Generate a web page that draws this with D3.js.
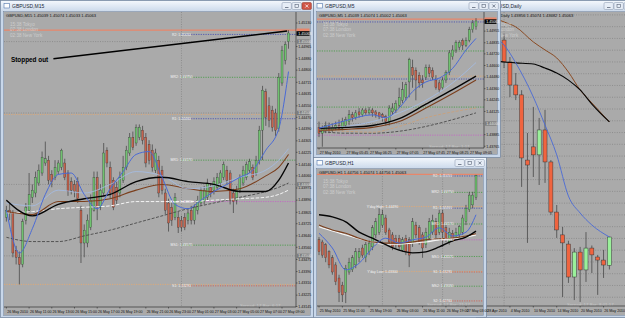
<!DOCTYPE html>
<meta charset="utf-8">
<style>
body { margin: 0; background: #c3d2e6; }
svg { display: block; }
text { font-family: "Liberation Sans", Arial, sans-serif; }
</style>
<body>
<script src="https://d3js.org/d3.v7.min.js"></script>
<script>
// ---------- values ----------

// GBPUSD M15 (big left window)
var m15Open = [1.4377,1.4382,1.4380,1.4354,1.4349,1.4344,1.4375,1.4382,1.4391,1.4394,
  1.4401,1.4408,1.4415,1.4417,1.4407,1.4405,1.4409,1.4412,1.4415,1.4408,
  1.4402,1.4400,1.4402,1.4382,1.4359,1.4359,1.4370,1.4382,1.4405,1.4384,
  1.4394,1.4424,1.4412,1.4403,1.4398,1.4394,1.4403,1.4412,1.4422,1.4433,
  1.4429,1.4433,1.4438,1.4433,1.4428,1.4424,1.4410,1.4417,1.4410,1.4394,
  1.4387,1.4384,1.4377,1.4377,1.4375,1.4377,1.4375,1.4382,1.4375,1.4382,
  1.4387,1.4388,1.4391,1.4398,1.4396,1.4398,1.4401,1.4405,1.4410,1.4408,
  1.4394,1.4389,1.4396,1.4401,1.4405,1.4410,1.4412,1.4408,1.4417,1.4438,
  1.4465,1.4455,1.4452,1.4450,1.4439,1.4471,1.4487,1.4500];
var m15High = [1.4385,1.4387,1.4382,1.4357,1.4353,1.4376,1.4387,1.4408,1.4400,1.4409,
  1.4414,1.4423,1.4430,1.4420,1.4410,1.4417,1.4417,1.4425,1.4418,1.4410,
  1.4405,1.4403,1.4405,1.4385,1.4372,1.4379,1.4393,1.4409,1.4409,1.4400,
  1.4429,1.4426,1.4416,1.4405,1.4402,1.4409,1.4420,1.4427,1.4436,1.4437,
  1.4442,1.4442,1.4441,1.4436,1.4431,1.4428,1.4425,1.4420,1.4413,1.4397,
  1.4390,1.4387,1.4394,1.4381,1.4378,1.4380,1.4383,1.4385,1.4386,1.4392,
  1.4398,1.4399,1.4404,1.4401,1.4405,1.4408,1.4410,1.4416,1.4413,1.4410,
  1.4397,1.4399,1.4407,1.4413,1.4416,1.4418,1.4414,1.4420,1.4441,1.4469,
  1.4467,1.4461,1.4455,1.4453,1.4478,1.4497,1.4500,1.4508];
var m15Low = [1.4374,1.4375,1.4349,1.4344,1.4330,1.4342,1.4372,1.4380,1.4387,1.4391,
  1.4399,1.4406,1.4413,1.4400,1.4398,1.4403,1.4407,1.4410,1.4403,1.4392,
  1.4393,1.4391,1.4387,1.4345,1.4349,1.4356,1.4368,1.4381,1.4375,1.4382,
  1.4392,1.4412,1.4390,1.4382,1.4386,1.4391,1.4401,1.4410,1.4420,1.4424,
  1.4427,1.4431,1.4428,1.4412,1.4414,1.4409,1.4408,1.4391,1.4393,1.4379,
  1.4367,1.4371,1.4375,1.4366,1.4367,1.4368,1.4372,1.4372,1.4372,1.4379,
  1.4385,1.4386,1.4389,1.4391,1.4393,1.4396,1.4399,1.4403,1.4400,1.4386,
  1.4380,1.4386,1.4394,1.4399,1.4403,1.4408,1.4403,1.4406,1.4414,1.4417,
  1.4441,1.4440,1.4437,1.4434,1.4437,1.4469,1.4484,1.4495];
var m15Close = [1.4382,1.4380,1.4352,1.4349,1.4344,1.4374,1.4384,1.4393,1.4396,1.4405,
  1.4410,1.4419,1.4418,1.4403,1.4402,1.4412,1.4415,1.4424,1.4405,1.4395,
  1.4396,1.4395,1.4390,1.4359,1.4368,1.4375,1.4389,1.4405,1.4384,1.4396,
  1.4422,1.4415,1.4394,1.4384,1.4389,1.4405,1.4412,1.4424,1.4433,1.4426,
  1.4440,1.4440,1.4431,1.4415,1.4417,1.4412,1.4422,1.4394,1.4396,1.4382,
  1.4373,1.4375,1.4391,1.4370,1.4370,1.4370,1.4380,1.4375,1.4384,1.4389,
  1.4396,1.4396,1.4401,1.4394,1.4402,1.4405,1.4408,1.4414,1.4403,1.4389,
  1.4388,1.4396,1.4405,1.4410,1.4414,1.4416,1.4405,1.4417,1.4438,1.4466,
  1.4447,1.4445,1.4440,1.4438,1.4475,1.4494,1.4498,1.4506];
var m15MaIdx = [0,8,16,24,32,40,48,56,64,72,80,84,87];
var m15Black = [1.4389,1.4378,1.4386,1.4390,1.4393,1.4402,1.4405,1.4402,1.4400,1.4395,1.4395,1.4403,1.4415];
var m15Brown = [1.4381,1.4379,1.4388,1.4388,1.4390,1.4396,1.4400,1.4397,1.4395,1.4397,1.4406,1.4412,1.4421];
var m15LightBlue = [1.4387,1.4385,1.4396,1.4394,1.4400,1.4409,1.4406,1.4397,1.4399,1.4405,1.4410,1.4417,1.4425];
var m15White = [1.4380,1.4381,1.4383,1.4384,1.4385,1.4388,1.4388,1.4388,1.4389,1.4390,1.4391,1.4393,1.4396];
var m15Slow = [1.4363,1.4360,1.4360,1.4364,1.4368,1.4373,1.4378,1.4383,1.4387,1.4391,1.4395,1.4398,1.4401];
var m15BlueIdx = [0,4,8,12,16,20,24,28,32,36,40,44,48,52,56,60,64,68,72,76,80,84,87];
var m15Blue = [1.4382,1.4352,1.4369,1.4393,1.4407,1.4408,1.4393,1.4383,1.4397,1.4409,1.4421,1.4423,
  1.4405,1.4386,1.4383,1.4389,1.4395,1.4400,1.4405,1.4410,1.4424,1.4439,1.4479];
var m15TimeLabels = ["26 May 2010","26 May 11:00","26 May 13:00","26 May 15:00","26 May 17:00","26 May 19:00",
  "26 May 21:00","26 May 23:00","27 May 01:00","27 May 03:00","27 May 05:00","27 May 07:00","27 May 09:00"];
var m15TimeIdx = [0,7,14,21,28,35,43,50,57,64,71,78,85];
var m15PriceTicks = [1.4513,1.44965,1.4488,1.448,1.44715,1.44635,1.4455,1.4447,1.4439,1.44305,1.44225,1.4414,
  1.4406,1.43975,1.4389,1.43805,1.43725,1.4364,1.4356,1.43475,1.4339,1.4331,1.43225,1.43145];
var m15Round = [1.4350,1.4400,1.4450,1.4500];

// GBPUSD M5 (top middle)
var m5Open = [1.4396,1.4390,1.4393,1.4397,1.4393,1.4395,1.4398,1.4395,1.4398,1.4402,
  1.4409,1.4406,1.4412,1.4409,1.4414,1.4411,1.4414,1.4412,1.4411,1.4409,
  1.4407,1.4402,1.4412,1.4414,1.4419,1.4424,1.4427,1.4443,1.4458,1.4455,
  1.4450,1.4445,1.4448,1.4458,1.4455,1.4445,1.4442,1.4437,1.4445,1.4453,
  1.4469,1.4476,1.4479,1.4486,1.4481,1.4486,1.4497,1.4500];
var m5High = [1.4402,1.4398,1.4402,1.4401,1.4400,1.4402,1.4404,1.4406,1.4407,1.4414,
  1.4412,1.4414,1.4416,1.4416,1.4416,1.4417,1.4416,1.4414,1.4412,1.4411,
  1.4409,1.4419,1.4421,1.4424,1.4437,1.4443,1.4443,1.4468,1.4466,1.4458,
  1.4453,1.4450,1.4461,1.4461,1.4458,1.4450,1.4445,1.4448,1.4455,1.4476,
  1.4481,1.4486,1.4486,1.4488,1.4489,1.4500,1.4507,1.4509];
var m5Low = [1.4386,1.4376,1.4390,1.4390,1.4391,1.4393,1.4393,1.4393,1.4396,1.4398,
  1.4402,1.4404,1.4406,1.4407,1.4409,1.4409,1.4407,1.4406,1.4404,1.4402,
  1.4398,1.4398,1.4409,1.4411,1.4416,1.4421,1.4424,1.4427,1.4437,1.4424,
  1.4437,1.4437,1.4445,1.4448,1.4445,1.4435,1.4432,1.4435,1.4442,1.4450,
  1.4466,1.4473,1.4476,1.4476,1.4479,1.4484,1.4494,1.4497];
var m5Close = [1.4390,1.4395,1.4398,1.4393,1.4396,1.4398,1.4395,1.4402,1.4404,1.4409,
  1.4406,1.4411,1.4409,1.4414,1.4411,1.4414,1.4411,1.4409,1.4407,1.4406,
  1.4402,1.4416,1.4416,1.4421,1.4427,1.4435,1.4440,1.4466,1.4450,1.4445,
  1.4442,1.4442,1.4458,1.4452,1.4448,1.4437,1.4435,1.4445,1.4453,1.4473,
  1.4476,1.4484,1.4484,1.4481,1.4486,1.4497,1.4504,1.4506];
var m5MaIdx = [0,8,16,24,32,40,47];
var m5LightBlue = [1.4395,1.4397,1.4402,1.4411,1.4424,1.4442,1.4463];
var m5Black = [1.4395,1.4396,1.4398,1.4405,1.4420,1.4435,1.4449];
var m5Brown = [1.4393,1.4394,1.4396,1.4402,1.4416,1.4431,1.4445];
var m5Tan = [1.4393,1.4392,1.4391,1.4397,1.4406,1.4412,1.4416];
var m5Slow = [1.4392,1.4390,1.4390,1.4392,1.4397,1.4404,1.4411];
var m5BlueIdx = [0,8,16,20,24,28,32,36,40,44,47];
var m5Blue = [1.4395,1.4403,1.4409,1.4406,1.4416,1.4433,1.4443,1.4447,1.4457,1.4476,1.4488];
var m5TimeLabels = ["27 May 2010","27 May 05:45","27 May 06:25","27 May 07:05","27 May 07:45","27 May 08:25","27 May 09:05"];
var m5TimeIdx = [0,8,15,23,31,38,45];
var m5PriceTicks = [1.44955,1.44835,1.4472,1.446,1.4448,1.4436,1.44245,1.44125,1.43885,1.43765];
var m5Round = [1.4400];

// GBPUSD H1 (bottom middle)
var h1Open = [1.4388,1.4384,1.4379,1.4366,1.4355,1.4342,1.4318,1.4305,1.4292,1.4329,1.4333,1.4342,
  1.4355,1.4373,1.4355,1.4366,1.4375,1.4397,1.4402,1.4415,1.4428,1.4406,1.4397,1.4391,
  1.4391,1.4369,1.4391,1.4388,1.4382,1.4415,1.4410,1.4397,1.4379,1.4391,1.4402,1.4421,
  1.4402,1.4437,1.4410,1.4384,1.4400,1.4391,1.4397,1.4402,1.4421,1.4443,1.4452,1.4466];
var h1High = [1.4393,1.4388,1.4382,1.4369,1.4360,1.4347,1.4324,1.4311,1.4342,1.4355,1.4360,1.4373,
  1.4373,1.4379,1.4384,1.4388,1.4415,1.4428,1.4446,1.4443,1.4434,1.4410,1.4402,1.4397,
  1.4397,1.4393,1.4397,1.4393,1.4428,1.4421,1.4415,1.4402,1.4410,1.4428,1.4434,1.4428,
  1.4443,1.4443,1.4415,1.4410,1.4406,1.4410,1.4415,1.4434,1.4452,1.4476,1.4476,1.4507];
var h1Low = [1.4360,1.4355,1.4347,1.4336,1.4324,1.4305,1.4274,1.4274,1.4272,1.4324,1.4329,1.4336,
  1.4347,1.4355,1.4347,1.4360,1.4369,1.4391,1.4397,1.4410,1.4397,1.4379,1.4369,1.4373,
  1.4369,1.4366,1.4360,1.4338,1.4375,1.4391,1.4379,1.4355,1.4373,1.4388,1.4397,1.4391,
  1.4397,1.4375,1.4384,1.4379,1.4384,1.4388,1.4391,1.4397,1.4415,1.4439,1.4446,1.4461];
var h1Close = [1.4366,1.4360,1.4355,1.4342,1.4329,1.4311,1.4292,1.4287,1.4336,1.4347,1.4355,1.4366,
  1.4366,1.4360,1.4379,1.4382,1.4410,1.4421,1.4434,1.4434,1.4402,1.4384,1.4375,1.4379,
  1.4375,1.4388,1.4366,1.4360,1.4421,1.4397,1.4384,1.4373,1.4402,1.4421,1.4424,1.4397,
  1.4437,1.4402,1.4391,1.4402,1.4391,1.4402,1.4412,1.4428,1.4446,1.4470,1.4470,1.4506];
var h1MaIdx = [0,4,8,12,16,20,24,28,32,36,40,44,47];
var h1Black = [1.4434,1.4430,1.4421,1.4402,1.4391,1.4379,1.4369,1.4364,1.4366,1.4375,1.4386,1.4393,1.4404];
var h1Brown = [1.4415,1.4406,1.4400,1.4391,1.4384,1.4382,1.4382,1.4384,1.4388,1.4390,1.4391,1.4395,1.4399];
var h1White = [1.4412,1.4404,1.4397,1.4390,1.4384,1.4380,1.4380,1.4382,1.4384,1.4388,1.4390,1.4393,1.4397];
var h1Blue = [1.4400,1.4373,1.4333,1.4345,1.4373,1.4391,1.4382,1.4388,1.4393,1.4410,1.4395,1.4402,1.4434];
var h1TimeLabels = ["25 May 2010","25 May 11:00","25 May 19:00","26 May 03:00","26 May 11:00","26 May 19:00","27 May 03:00"];
var h1TimeIdx = [0,7,15,23,31,38,44];

// GBPUSD Daily (right, mostly covered)
var dailyOpen = [1.5210,1.5300,1.5330,1.5343,1.5250,1.5152,1.5110,1.4833,1.4889,1.4855,1.4961,
  1.4825,1.4612,1.4515,1.4476,1.4336,1.4442,1.4366,1.4459,1.4421,1.4408,1.4386];
var dailyHigh = [1.5330,1.5370,1.5400,1.5370,1.5271,1.5203,1.5130,1.4948,1.5059,1.5012,1.5046,
  1.4833,1.4642,1.4549,1.4490,1.4459,1.4464,1.4527,1.4470,1.4430,1.4451,1.4507];
var dailyLow = [1.5190,1.5250,1.5280,1.5224,1.5101,1.5088,1.4719,1.4481,1.4761,1.4727,1.4736,
  1.4600,1.4502,1.4251,1.4311,1.4238,1.4230,1.4315,1.4353,1.4260,1.4332,1.4368];
var dailyClose = [1.5300,1.5330,1.5300,1.5250,1.5152,1.5110,1.4842,1.4812,1.4855,1.4961,1.4825,
  1.4612,1.4536,1.4481,1.4336,1.4442,1.4366,1.4459,1.4430,1.4408,1.4387,1.4506];
var dailyMaIdx = [0,3,5,8,10,12,14,16,18,21];
var dailyBrown = [1.5450,1.5420,1.5399,1.5335,1.5301,1.5267,1.5207,1.5131,1.5076,1.4995];
var dailyBlack = [1.5258,1.5250,1.5246,1.5241,1.5224,1.5203,1.5173,1.5131,1.5071,1.4995];
var dailyBlue = [1.5365,1.5322,1.5246,1.5101,1.4982,1.4855,1.4680,1.4608,1.4557,1.4506];
var dailyTimeLabels = ["28 Apr 2010","4 May 2010","10 May 2010","14 May 2010","20 May 2010","26 May 2010"];
var dailyTimeIdx = [0,4,8,12,16,20];

// pivot levels for 27 May and yesterday's range
var levelNames = ["R2","MR2","R1","MR1","Pivot","MS1","S1","MS2","S2"];
var levelPrices = [1.4505,1.4475,1.4446,1.4417,1.4388,1.43575,1.4329,1.4303,1.4276];
var ydayNames = ["Y'day High","Y'day Low"];
var ydayPrices = [1.4449,1.4330];
var stopPrice = 1.4508;
var lastPrice = 1.45063;
var sessions = ["15:38 Tokyo","07:38 London","02:38 New York"];

// ---------- drawing ----------
var W = 625, H = 318;
var BG = "#aaaaaa";

var svg = d3.select("body").append("svg").attr("width", W).attr("height", H);
var defs = svg.append("defs");
var tg = defs.append("linearGradient").attr("id", "titlebar")
    .attr("x1", 0).attr("y1", 0).attr("x2", 0).attr("y2", 1);
tg.append("stop").attr("offset", 0).attr("stop-color", "#f3f7fc");
tg.append("stop").attr("offset", 1).attr("stop-color", "#cbd9eb");

// window chrome (Win7 basic look)
function drawFrame(f) {
  var g = svg.append("g");
  g.append("rect").attr("x", f.x + 0.5).attr("y", f.y + 0.5).attr("width", f.w - 1).attr("height", f.h - 1)
      .attr("fill", "#c8d7ea").attr("stroke", "#71829b").attr("stroke-width", 0.7);
  g.append("rect").attr("x", f.x + 1).attr("y", f.y + 1).attr("width", f.w - 2).attr("height", 10.5)
      .attr("fill", "url(#titlebar)");
  g.append("rect").attr("x", f.x + 4).attr("y", f.y + 3.5).attr("width", 5.5).attr("height", 4.5)
      .attr("fill", "#fdfdfd").attr("stroke", "#4f74aa").attr("stroke-width", 0.6);
  g.append("text").attr("x", f.x + 12).attr("y", f.y + 8.2).attr("font-size", 5)
      .attr("fill", "#1d2836").text(f.title);
  var bx = f.x + f.w - 32, by = f.y + 2.5;
  for (var k = 0; k < 3; k++) {
    var red = (k === 2 && f.active);
    g.append("rect").attr("x", bx + k * 10).attr("y", by).attr("width", 9.4).attr("height", 7).attr("rx", 1.2)
        .attr("fill", red ? "#cf5546" : "#e6edf6").attr("stroke", red ? "#8e3327" : "#8493a9").attr("stroke-width", 0.5);
  }
  var gc = f.active ? "#ffffff" : "#5a6578";
  g.append("line").attr("x1", bx + 3).attr("x2", bx + 6.5).attr("y1", by + 5).attr("y2", by + 5)
      .attr("stroke", "#5a6578").attr("stroke-width", 0.8);
  g.append("rect").attr("x", bx + 13).attr("y", by + 2).attr("width", 3.5).attr("height", 3)
      .attr("fill", "none").attr("stroke", "#5a6578").attr("stroke-width", 0.6);
  g.append("path").attr("d", "M" + (bx + 23.3) + "," + (by + 2) + "l3,3m0,-3l-3,3")
      .attr("stroke", gc).attr("stroke-width", 0.8);
  g.append("rect").attr("x", f.cx0 - 0.5).attr("y", f.cy0 - 0.5)
      .attr("width", f.cx1 - f.cx0 + 1).attr("height", f.cy1 - f.cy0 + 1)
      .attr("fill", "none").attr("stroke", "#7a8799").attr("stroke-width", 0.6);
}

function levelColor(name) {
  if (/^M[RS]/.test(name)) return "#3e9a3e";
  if (/^R/.test(name)) return "#3f47b0";
  if (/^S/.test(name)) return "#d2584a";
  return "#c65ec6";
}

function drawChart(c) {
  var g = svg.append("g");
  var P = c.plot;
  var xs = d3.scaleLinear().domain([0, c.open.length - 1]).range(c.barRange);
  var ys = d3.scaleLinear().domain(c.priceDomain).range([P.y1, P.y0]);

  var cid = "clip-" + c.id;
  defs.append("clipPath").attr("id", cid).append("rect")
      .attr("x", P.x0).attr("y", P.y0).attr("width", P.x1 - P.x0).attr("height", P.y1 - P.y0);

  g.append("rect").attr("x", P.x0).attr("y", P.y0)
      .attr("width", c.client.x1 - P.x0).attr("height", c.client.y1 - P.y0).attr("fill", BG);

  var p = g.append("g").attr("clip-path", "url(#" + cid + ")");

  function hline(v, x0, col, w, dash) {
    p.append("line").attr("x1", x0).attr("x2", P.x1).attr("y1", ys(v)).attr("y2", ys(v))
        .attr("stroke", col).attr("stroke-width", w).attr("stroke-dasharray", dash);
  }

  // grid (explicit levels, or every tick of the price scale)
  var gridVals = c.gridTicks ? ys.ticks(c.gridTicks) : c.grid;
  gridVals.forEach(function(v) { hline(v, P.x0, "#7b7b7b", 0.6, "1,1.4"); });
  c.vgrid.forEach(function(i) {
    p.append("line").attr("x1", xs(i)).attr("x2", xs(i)).attr("y1", P.y0).attr("y2", P.y1)
        .attr("stroke", "#7b7b7b").attr("stroke-width", 0.6).attr("stroke-dasharray", "1,1.4");
  });

  // yesterday high / low, today's pivots, stop line
  if (c.levels) {
    var ys0 = c.ydayStart == null ? P.x0 : xs(c.ydayStart);
    var ts0 = c.todayStart == null ? P.x0 : xs(c.todayStart);
    ydayPrices.forEach(function(v) { hline(v, ys0, "#e6a86e", 0.8, "1.2,1.2"); });
    levelPrices.forEach(function(v, i) { hline(v, ts0, levelColor(levelNames[i]), 0.8, "1.2,1.2"); });
    hline(stopPrice, P.x0, "#e8866a", 1.3, null);
  }

  // candles
  var idx = d3.range(c.open.length);
  var st = c.candle;
  p.selectAll(null).data(idx).join("line")
      .attr("x1", function(i) { return xs(i); }).attr("x2", function(i) { return xs(i); })
      .attr("y1", function(i) { return ys(c.high[i]); }).attr("y2", function(i) { return ys(c.low[i]); })
      .attr("stroke", st.wick).attr("stroke-width", st.ww);
  p.selectAll(null).data(idx).join("rect")
      .attr("x", function(i) { return xs(i) - st.bw / 2; })
      .attr("y", function(i) { return ys(Math.max(c.open[i], c.close[i])); })
      .attr("width", st.bw)
      .attr("height", function(i) { return Math.max(0.7, Math.abs(ys(c.open[i]) - ys(c.close[i]))); })
      .attr("fill", function(i) { return c.close[i] >= c.open[i] ? st.up : st.down; })
      .attr("stroke", st.wick).attr("stroke-width", st.ew);

  // moving averages
  var line = d3.line().x(function(d) { return xs(d[0]); }).y(function(d) { return ys(d[1]); })
      .curve(d3.curveMonotoneX);
  c.mas.forEach(function(m) {
    p.append("path").datum(d3.zip(m.idx, m.vals)).attr("d", line).attr("fill", "none")
        .attr("stroke", m.color).attr("stroke-width", m.w).attr("stroke-dasharray", m.dash || null);
  });

  // pivot labels
  if (c.levelLabels) {
    levelPrices.forEach(function(v, i) {
      if (ys(v) < P.y0 + 4 || ys(v) > P.y1 - 2) return;
      p.append("text").attr("x", xs(c.todayStart)).attr("y", ys(v) + 1.1).attr("text-anchor", "middle")
          .attr("font-size", 3.5).attr("fill", "#f4f4f4").text(levelNames[i] + ": " + v.toFixed(5));
    });
  }
  if (c.ydayLabels) {
    ydayPrices.forEach(function(v, i) {
      p.append("text").attr("x", xs(c.ydayStart)).attr("y", ys(v) + 1.1).attr("text-anchor", "middle")
          .attr("font-size", 3.5).attr("fill", "#f4f4f4").text(ydayNames[i] + ": " + v.toFixed(5));
    });
  }

  // header, session clock, spread
  p.append("text").attr("x", P.x0 + 2).attr("y", P.y0 + 4.6).attr("font-size", 4.1)
      .attr("fill", "#111").text(c.header);
  sessions.forEach(function(s, i) {
    p.append("text").attr("x", P.x0 + c.sessX).attr("y", P.y0 + 13.6 + i * 5.6).attr("font-size", 4.6)
        .attr("fill", "#cdcdcd").text(s);
  });
  p.append("text").attr("x", c.spreadX).attr("y", P.y1 - 0.4).attr("font-size", 4.4)
      .attr("fill", "#c9c9c9").text(c.spread);

  if (c.annotate) c.annotate(p, xs, ys);

  // time axis
  var t = g.append("g");
  t.append("line").attr("x1", P.x0).attr("x2", P.x1).attr("y1", P.y1).attr("y2", P.y1)
      .attr("stroke", "#1c1c1c").attr("stroke-width", 0.6);
  c.timeIdx.forEach(function(i, k) {
    t.append("line").attr("x1", xs(i)).attr("x2", xs(i)).attr("y1", P.y1).attr("y2", P.y1 + 1.5)
        .attr("stroke", "#1c1c1c").attr("stroke-width", 0.5);
    t.append("text").attr("x", xs(i) + 0.8).attr("y", P.y1 + 5.6).attr("font-size", 3.6)
        .attr("fill", "#111").text(c.timeLabels[k]);
  });

  // price axis
  if (c.ticks) {
    var a = g.append("g");
    a.append("line").attr("x1", P.x1).attr("x2", P.x1).attr("y1", P.y0).attr("y2", P.y1)
        .attr("stroke", "#1c1c1c").attr("stroke-width", 0.6);
    c.ticks.forEach(function(v) {
      a.append("line").attr("x1", P.x1).attr("x2", P.x1 + 1.5).attr("y1", ys(v)).attr("y2", ys(v))
          .attr("stroke", "#1c1c1c").attr("stroke-width", 0.5);
      a.append("text").attr("x", P.x1 + 2.3).attr("y", ys(v) + 1.3).attr("font-size", 3.6)
          .attr("fill", "#111").text(v.toFixed(5));
    });
    var aw = c.client.x1 - P.x1;
    c.grid.forEach(function(v) {
      a.append("rect").attr("x", P.x1 + 0.5).attr("y", ys(v) - 2.2).attr("width", aw - 1).attr("height", 4.4)
          .attr("fill", "#7e7e7e");
      a.append("text").attr("x", P.x1 + 2.3).attr("y", ys(v) + 1.3).attr("font-size", 3.6)
          .attr("fill", "#e6e6e6").text(v.toFixed(5));
    });
    a.append("rect").attr("x", P.x1 + 0.5).attr("y", ys(stopPrice) - 1.6).attr("width", aw - 1).attr("height", 3)
        .attr("fill", "#e8866a");
    a.append("rect").attr("x", P.x1 + 0.5).attr("y", ys(lastPrice) - 1.4).attr("width", aw - 1).attr("height", 4.6)
        .attr("fill", "#050505");
    a.append("text").attr("x", P.x1 + 2.3).attr("y", ys(lastPrice) + 2.3).attr("font-size", 3.6)
        .attr("fill", "#ffffff").text(lastPrice.toFixed(5));
  }
}

// ----- Daily window (drawn first, the others sit on top of it)
drawFrame({x: 476, y: 0, w: 160, h: 318, title: "GBPUSD,Daily", active: false,
  cx0: 480, cy0: 12, cx1: 640, cy1: 315});
drawChart({
  id: "d1", plot: {x0: 480, x1: 640, y0: 12, y1: 306}, client: {x1: 640, y1: 315},
  open: dailyOpen, high: dailyHigh, low: dailyLow, close: dailyClose,
  barRange: [486.5, 609.4], priceDomain: [1.42128, 1.54623],
  candle: {bw: 4, up: "#9af09a", down: "#f0643f", wick: "#3a3a3a", ww: 0.7, ew: 0.5},
  grid: [], gridTicks: 25, vgrid: [3], levels: false,
  mas: [
    {idx: dailyMaIdx, vals: dailyBrown, color: "#8a4a22", w: 1},
    {idx: dailyMaIdx, vals: dailyBlack, color: "#050505", w: 1.1},
    {idx: dailyMaIdx, vals: dailyBlue, color: "#4a6ad6", w: 0.9}
  ],
  header: "GBPUSD,Daily 1.43856 1.45074 1.43682 1.45063", sessX: 6,
  spread: "Spread: 17   Bar: 8:01:17", spreadX: 567,
  timeIdx: dailyTimeIdx, timeLabels: dailyTimeLabels
});

// ----- M15 window
drawFrame({x: 0, y: 0, w: 314, h: 318, title: "GBPUSD,M15", active: true,
  cx0: 4, cy0: 12, cx1: 310, cy1: 315});
drawChart({
  id: "m15", plot: {x0: 4, x1: 296, y0: 12, y1: 307}, client: {x1: 310, y1: 315},
  open: m15Open, high: m15High, low: m15Low, close: m15Close,
  barRange: [6.4, 288.5], priceDomain: [1.43142, 1.45207],
  candle: {bw: 2, up: "#6fc26f", down: "#c5634d", wick: "#2c2c2c", ww: 0.6, ew: 0.3},
  grid: m15Round, vgrid: [54], levels: true, todayStart: 54, ydayStart: null, levelLabels: true,
  mas: [
    {idx: m15MaIdx, vals: m15Slow, color: "#4a4a4a", w: 0.9, dash: "3,1.5"},
    {idx: m15MaIdx, vals: m15White, color: "#f4f4f4", w: 1, dash: "3.5,1.5"},
    {idx: m15MaIdx, vals: m15Brown, color: "#7b3f1d", w: 1.1},
    {idx: m15MaIdx, vals: m15LightBlue, color: "#a3bce6", w: 0.8},
    {idx: m15MaIdx, vals: m15Black, color: "#050505", w: 1.4},
    {idx: m15BlueIdx, vals: m15Blue, color: "#4a6ad6", w: 1}
  ],
  header: "GBPUSD,M15 1.45039 1.45074 1.45033 1.45063", sessX: 6,
  spread: "Spread: 17     Bar: 6:17", spreadX: 240,
  timeIdx: m15TimeIdx, timeLabels: m15TimeLabels, ticks: m15PriceTicks,
  annotate: function(p, xs, ys) {
    // trend line drawn by the trader, anchored at bar / price
    p.append("line").attr("x1", xs(14.5)).attr("y1", ys(1.4488)).attr("x2", xs(86.6)).attr("y2", ys(1.45074))
        .attr("stroke", "#000").attr("stroke-width", 1.5);
    p.append("text").attr("x", xs(1.4)).attr("y", ys(1.4486)).attr("font-size", 6.4).attr("font-weight", "bold")
        .attr("fill", "#000").text("Stopped out");
  }
});

// ----- M5 window
drawFrame({x: 313, y: 0, w: 188, h: 158, title: "GBPUSD,M5", active: false,
  cx0: 317, cy0: 12, cx1: 497, cy1: 154});
drawChart({
  id: "m5", plot: {x0: 317, x1: 484, y0: 12, y1: 148}, client: {x1: 497, y1: 154},
  open: m5Open, high: m5High, low: m5Low, close: m5Close,
  barRange: [319, 476], priceDomain: [1.43747, 1.45153],
  candle: {bw: 2, up: "#6fc26f", down: "#c5634d", wick: "#2c2c2c", ww: 0.6, ew: 0.3},
  grid: m5Round, vgrid: [], levels: true, todayStart: null, ydayStart: null, levelLabels: false,
  mas: [
    {idx: m5MaIdx, vals: m5Slow, color: "#4a4a4a", w: 0.9, dash: "3,1.5"},
    {idx: m5MaIdx, vals: m5Tan, color: "#c9a07a", w: 0.9, dash: "3,1.5"},
    {idx: m5MaIdx, vals: m5Brown, color: "#7b3f1d", w: 1.1},
    {idx: m5MaIdx, vals: m5LightBlue, color: "#a3bce6", w: 0.8},
    {idx: m5MaIdx, vals: m5Black, color: "#050505", w: 1.4},
    {idx: m5BlueIdx, vals: m5Blue, color: "#4a6ad6", w: 1}
  ],
  header: "GBPUSD,M5 1.45039 1.45074 1.45002 1.45063", sessX: 6,
  spread: "Spread: 17     Bar: 1:17", spreadX: 429,
  timeIdx: m5TimeIdx, timeLabels: m5TimeLabels, ticks: m5PriceTicks
});

// ----- H1 window
drawFrame({x: 313, y: 157, w: 174, h: 161, title: "GBPUSD,H1", active: false,
  cx0: 317, cy0: 169, cx1: 483, cy1: 315});
drawChart({
  id: "h1", plot: {x0: 317, x1: 483, y0: 169, y1: 306}, client: {x1: 483, y1: 315},
  open: h1Open, high: h1High, low: h1Low, close: h1Close,
  barRange: [319, 476], priceDomain: [1.42667, 1.45178],
  candle: {bw: 2, up: "#6fc26f", down: "#c5634d", wick: "#2c2c2c", ww: 0.6, ew: 0.3},
  grid: [], vgrid: [19, 37], levels: true, todayStart: 37, ydayStart: 19,
  levelLabels: true, ydayLabels: true,
  mas: [
    {idx: h1MaIdx, vals: h1White, color: "#f6f6f6", w: 1.1},
    {idx: h1MaIdx, vals: h1Brown, color: "#7b3f1d", w: 1.1},
    {idx: h1MaIdx, vals: h1Black, color: "#050505", w: 1.4},
    {idx: h1MaIdx, vals: h1Blue, color: "#4a6ad6", w: 1}
  ],
  header: "GBPUSD,H1 1.44756 1.45074 1.44756 1.45063", sessX: 6,
  spread: "Spread: 17     Bar: 21:17", spreadX: 427,
  timeIdx: h1TimeIdx, timeLabels: h1TimeLabels
});
</script>
